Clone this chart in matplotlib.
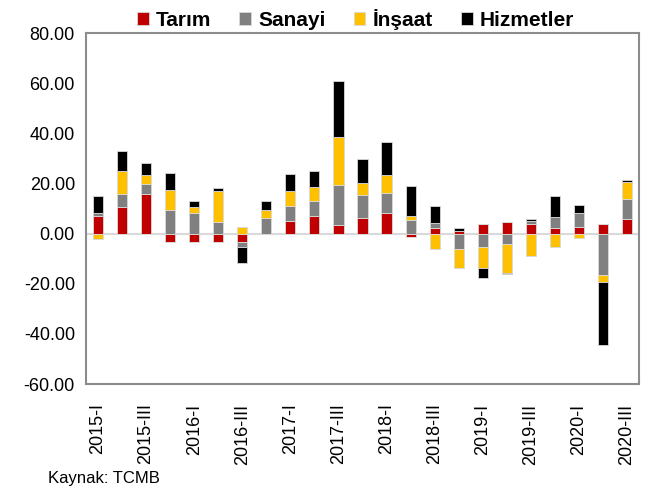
import matplotlib
matplotlib.use("Agg")
import matplotlib.pyplot as plt
import numpy as np

quarters = ["2015-I", "2015-II", "2015-III", "2015-IV",
            "2016-I", "2016-II", "2016-III", "2016-IV",
            "2017-I", "2017-II", "2017-III", "2017-IV",
            "2018-I", "2018-II", "2018-III", "2018-IV",
            "2019-I", "2019-II", "2019-III", "2019-IV",
            "2020-I", "2020-II", "2020-III"]

tarim = [7.2, 10.5, 15.7, -3.2, -3.5, -3.5, -3.5, 0.0,
         4.9, 6.9, 3.5, 6.1, 8.2, -1.3, 2.4, 0.9,
         4.0, 4.6, 4.0, 2.4, 2.7, 4.0, 6.0]
sanayi = [1.1, 5.4, 4.0, 9.3, 8.1, 4.6, -1.9, 6.1,
          6.0, 6.0, 16.1, 9.4, 8.2, 5.3, 2.0, -6.2,
          -5.2, -4.0, 1.1, 4.2, 5.7, -16.6, 8.0]
insaat = [-2.1, 9.2, 3.7, 8.2, 2.5, 12.6, 2.8, 3.2,
          6.1, 5.7, 18.9, 4.9, 7.2, 1.9, -6.1, -7.4,
          -8.4, -11.7, -9.0, -5.2, -1.9, -2.7, 6.5]
hizmetler = [6.6, 8.1, 4.8, 6.9, 2.4, 1.2, -6.4, 3.7,
             6.8, 6.4, 22.3, 9.4, 12.9, 11.7, 6.8, 1.2,
             -4.1, -0.4, 0.9, 8.4, 3.1, -25.0, 0.8]

series_names = ["Tarım", "Sanayi", "İnşaat", "Hizmetler"]
series_colors = ["#C00000", "#808080", "#FFC000", "#000000"]
series = [tarim, sanayi, insaat, hizmetler]

plt.rcParams['font.family'] = ['Liberation Sans', 'DejaVu Sans']

fig = plt.figure(figsize=(6.57, 4.94), dpi=100)
ax = fig.add_axes([86/657, 1-384/494, (639-86)/657, (384-33.3)/494])

x = np.arange(len(quarters))
pos_bottom = np.zeros(len(quarters))
neg_bottom = np.zeros(len(quarters))
handles = []
for name, col, vals in zip(series_names, series_colors, series):
    v = np.array(vals, dtype=float)
    p = np.where(v > 0, v, 0)
    n = np.where(v < 0, v, 0)
    h = ax.bar(x, p, 0.42, bottom=pos_bottom, color=col, edgecolor="#d9d9d9",
               linewidth=0.6, zorder=3, label=name)
    ax.bar(x, n, 0.42, bottom=neg_bottom, color=col, edgecolor="#d9d9d9",
           linewidth=0.6, zorder=3)
    pos_bottom += p
    neg_bottom += n
    handles.append(h)

ax.axhline(0, color="#d9d9d9", linewidth=1.5, zorder=2)
ax.set_xlim(-0.5, len(quarters) - 0.5)
ax.set_ylim(-60, 80)
ax.set_yticks(np.arange(-60, 81, 20))
ax.set_yticklabels([f"{t:.2f}" for t in np.arange(-60, 81, 20)], fontsize=13)
ax.set_xticks(x[::2])
ax.set_xticklabels(quarters[::2], rotation=90, fontsize=13)
ax.tick_params(axis='both', length=0, pad=8)
ax.tick_params(axis='x', pad=14)
for s in ax.spines.values():
    s.set_color("#8c8c8c")
    s.set_linewidth(1.5)

leg = fig.legend(handles=handles, labels=series_names, loc="upper center",
                 bbox_to_anchor=(0.541, 1.02), ncol=4, frameon=False,
                 prop={'weight': 'bold', 'size': 15}, handlelength=0.57,
                 handleheight=0.57, handletextpad=0.33, columnspacing=1.35)

fig.text(48/657, 1-478/494, "Kaynak: TCMB", fontsize=12, va="center", ha="left")

fig.savefig("out.png", dpi=100)
